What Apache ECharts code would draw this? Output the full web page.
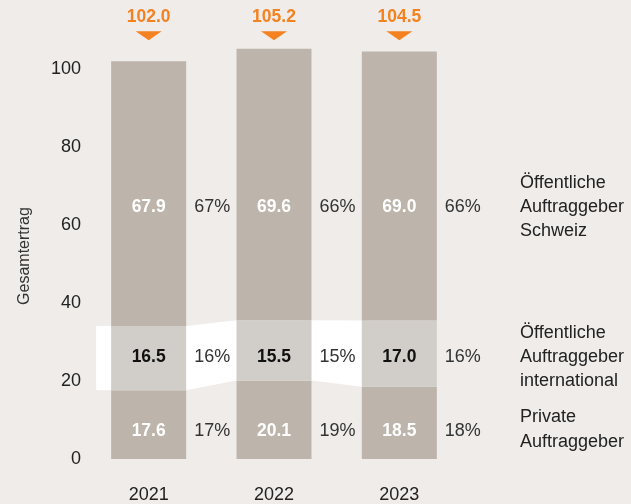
<!DOCTYPE html>
<html>
<head>
<meta charset="utf-8">
<script src="https://cdn.jsdelivr.net/npm/echarts@6/dist/echarts.min.js"></script>
<style>
html,body{margin:0;padding:0;background:#efecea;}
#main{width:631px;height:504px;}
</style>
</head>
<body>
<div id="main"></div>
<script>
// Daten
var years = ['2021', '2022', '2023'];
var totals = [102.0, 105.2, 104.5];
var privat = [17.6, 20.1, 18.5];
var international = [16.5, 15.5, 17.0];
var schweiz = [67.9, 69.6, 69.0];
var privatPct = ['17%', '19%', '18%'];
var internationalPct = ['16%', '15%', '16%'];
var schweizPct = ['67%', '66%', '66%'];
var yTicks = [0, 20, 40, 60, 80, 100];

var BAR_W = 75;
var FONT = 'Liberation Sans, Arial, Helvetica, sans-serif';
var rowY = [7.2, 26.15, 64.6]; // Zeilen der Beschriftungen (Achsenwerte)

var chart = echarts.init(document.getElementById('main'));

// weisses Band hinter den internationalen Segmenten
function renderBand(params, api) {
	var top = [], bot = [];
	for (var i = 0; i < years.length; i++) {
		var lo = api.coord([i, privat[i]]);
		var hi = api.coord([i, privat[i] + international[i]]);
		var l = lo[0] - BAR_W / 2, r = lo[0] + BAR_W / 2;
		if (i === 0) {
			top.push([l - 15, hi[1]]);
			bot.push([l - 15, lo[1]]);
		}
		top.push([l, hi[1]]);
		bot.push([l, lo[1]]);
		if (i < years.length - 1) {
			top.push([r, hi[1]]);
			bot.push([r, lo[1]]);
		}
	}
	var pts = top.concat(bot.reverse());
	return {
		type: 'polygon',
		shape: { points: pts },
		style: { fill: '#ffffff' }
	};
}

// Werte und Prozente
function renderLabels(params, api) {
	var i = api.value(0);
	var rows = [
		[privat[i], privatPct[i], '#ffffff'],
		[international[i], internationalPct[i], '#111111'],
		[schweiz[i], schweizPct[i], '#ffffff']
	];
	var children = [];
	rows.forEach(function (r, k) {
		var p = api.coord([i, rowY[k]]);
		children.push({
			type: 'text',
			style: { x: p[0], y: p[1], text: r[0].toFixed(1), fill: r[2], font: 'bold 17.5px ' + FONT, align: 'center', verticalAlign: 'middle' }
		});
		children.push({
			type: 'text',
			style: { x: p[0] + BAR_W / 2 + 26, y: p[1], text: r[1], fill: '#333333', font: '18px ' + FONT, align: 'center', verticalAlign: 'middle' }
		});
	});
	// Gesamtwert oben mit Dreieck
	var t = api.coord([i, 109.7]);
	var tip = api.coord([i, 107.4]);
	var lab = api.coord([i, 113.3]);
	children.push({
		type: 'polygon',
		shape: { points: [[t[0] - 13, t[1]], [t[0] + 13, t[1]], [t[0], tip[1]]] },
		style: { fill: '#f58220' }
	});
	children.push({
		type: 'text',
		style: { x: lab[0], y: lab[1], text: totals[i].toFixed(1), fill: '#f58220', font: 'bold 17.5px ' + FONT, align: 'center', verticalAlign: 'middle' }
	});
	return { type: 'group', children: children };
}

var option = {
	backgroundColor: '#efecea',
	animation: false,
	grid: { left: 86, right: 169, top: 10.5, bottom: 45 },
	xAxis: {
		type: 'category',
		data: years,
		axisLine: { show: false },
		axisTick: { show: false },
		axisLabel: { color: '#222', fontSize: 18, fontFamily: FONT, margin: 27 }
	},
	yAxis: {
		type: 'value',
		min: 0,
		max: 115,
		interval: 20,
		splitLine: { show: false },
		axisLine: { show: false },
		axisTick: { show: false },
		axisLabel: {
			color: '#222', fontSize: 18, fontFamily: FONT, margin: 5, showMaxLabel: false,
			formatter: function (v) { return yTicks.indexOf(v) >= 0 ? String(v) : ''; }
		}
	},
	graphic: [
		{ type: 'text', x: 25, y: 256, rotation: Math.PI / 2, style: { text: 'Gesamtertrag', fill: '#333', font: '16px ' + FONT, align: 'center', verticalAlign: 'middle' } },
		{ type: 'text', x: 520, y: 207, style: { text: 'Öffentliche\nAuftraggeber\nSchweiz', fill: '#222', font: '18px ' + FONT, lineHeight: 24, verticalAlign: 'middle' } },
		{ type: 'text', x: 520, y: 357, style: { text: 'Öffentliche\nAuftraggeber\ninternational', fill: '#222', font: '18px ' + FONT, lineHeight: 24, verticalAlign: 'middle' } },
		{ type: 'text', x: 520, y: 430, style: { text: 'Private\nAuftraggeber', fill: '#222', font: '18px ' + FONT, lineHeight: 25, verticalAlign: 'middle' } }
	],
	series: [
		{ type: 'custom', renderItem: renderBand, data: [[0]], z: 1, silent: true, clip: false },
		{ name: 'Private', type: 'bar', stack: 'a', barWidth: BAR_W, data: privat, itemStyle: { color: '#bdb5ab' }, z: 2 },
		{ name: 'International', type: 'bar', stack: 'a', barWidth: BAR_W, data: international, itemStyle: { color: '#d1cdc8' }, z: 2 },
		{ name: 'Schweiz', type: 'bar', stack: 'a', barWidth: BAR_W, data: schweiz, itemStyle: { color: '#bdb5ab' }, z: 2 },
		{ type: 'custom', renderItem: renderLabels, data: years.map(function (y, i) { return [i]; }), z: 3, silent: true, clip: false }
	]
};
chart.setOption(option);
</script>
</body>
</html>
